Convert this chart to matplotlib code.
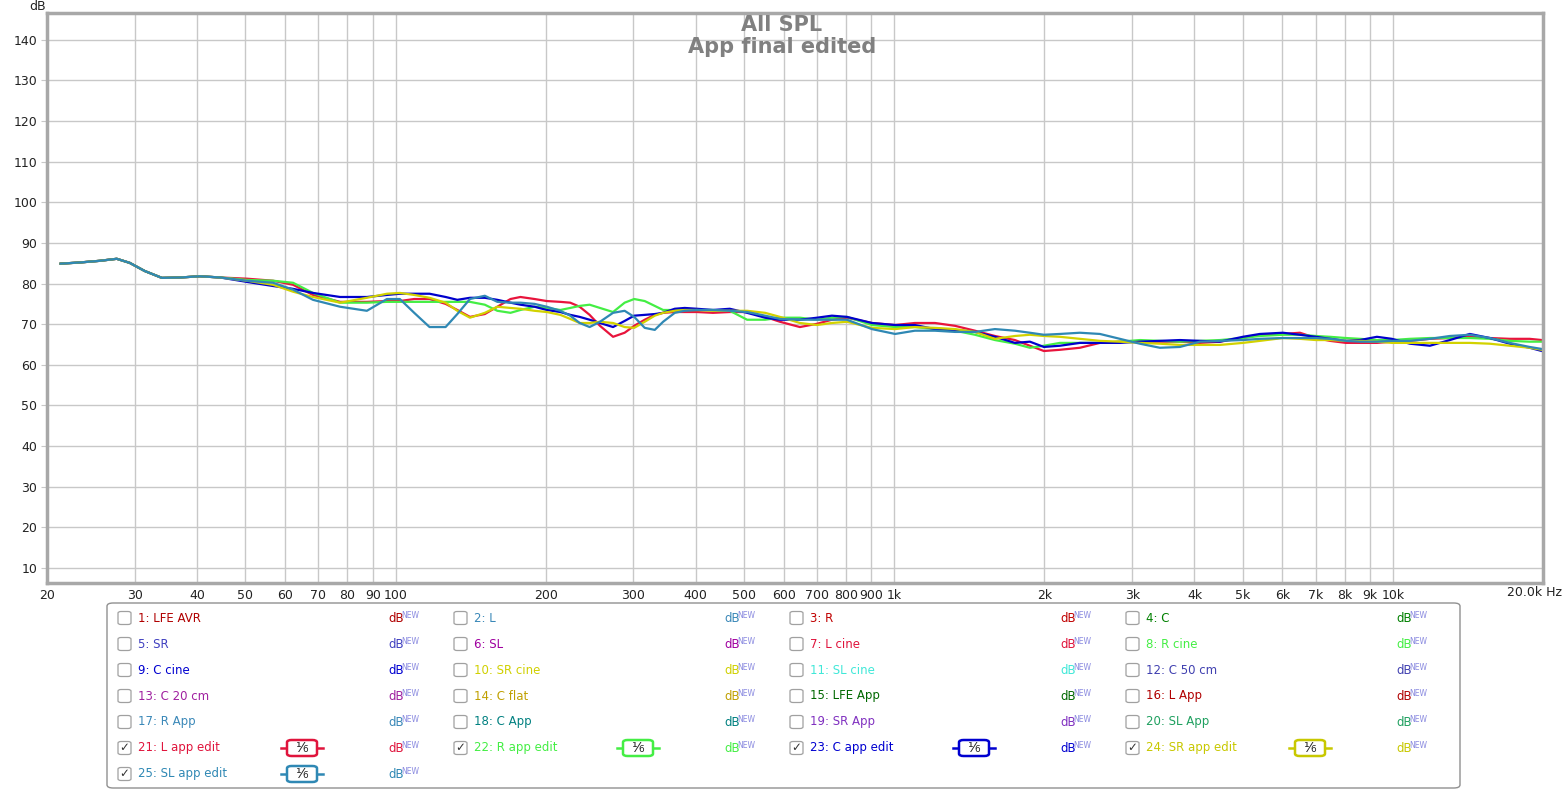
import matplotlib
matplotlib.use("Agg")
import matplotlib.pyplot as plt
from matplotlib.patches import FancyBboxPatch
from matplotlib.lines import Line2D

W, H = 1566, 790

# frequency points (Hz)
freq_hz = [21.3, 23.3, 25.5, 27.6, 29.3, 31.4, 34.0, 37.0, 40.5, 44.5,
           50.4, 56.8, 62.3, 68.3, 77.4, 87.6, 96.1, 102,
           109, 117, 126, 133, 141, 151, 160, 170, 178, 190, 201, 214, 224, 234, 245,
           257, 273, 288, 301, 316, 331, 344, 363, 380, 402, 433, 468, 507, 551, 590,
           647, 700, 750, 804, 902, 1004, 1100, 1207, 1324, 1452, 1592, 1746, 1871,
           1996, 2149, 2357, 2585, 2835, 3109, 3410, 3740,
           4102, 4499, 5003, 5411, 6018, 6509, 7008, 7478, 8049, 8589, 9289, 9955,
           10820, 11864, 13009, 14265, 15642, 17151, 18806, 19900]

# all five traces are identical below ~45 Hz
spl_low = [84.9, 85.2, 85.6, 86.1, 85.1, 83.1, 81.4, 81.5, 81.8, 81.5]

spl_l_edit = spl_low + [
    81.2, 80.7, 79.7, 77.2, 75.5, 75.5, 75.7, 75.7,
    76.2, 76.2, 75.0, 73.5, 71.8, 72.5, 74.3, 76.2, 76.7, 76.2, 75.7, 75.5, 75.3, 74.3, 72.3,
    69.6, 66.9, 67.9, 69.6, 71.1, 72.3, 72.8, 73.0, 73.0, 73.0, 72.8, 73.0, 73.0, 71.8, 70.6,
    69.3, 70.1, 71.1, 71.6, 70.3, 69.8, 70.3, 70.3, 69.6, 68.4, 67.1, 66.1, 64.7,
    63.4, 63.7, 64.2, 65.4, 65.7, 65.7, 65.7, 65.7,
    65.4, 65.7, 66.6, 67.4, 67.6, 67.9, 66.6, 65.9, 65.4, 65.4, 65.4, 65.7,
    65.9, 66.4, 66.6, 66.9, 66.6, 66.4, 66.4, 66.1]

spl_r_edit = spl_low + [
    80.9, 80.7, 80.2, 77.7, 75.3, 75.3, 75.5, 75.5,
    75.5, 75.5, 75.5, 75.5, 75.5, 74.8, 73.3, 72.8, 73.5, 74.3, 74.0, 73.5, 74.0, 74.5, 74.8,
    74.0, 73.0, 75.3, 76.2, 75.7, 74.5, 73.5, 73.5, 73.5, 73.5, 73.5, 73.3, 71.1, 71.1, 71.6,
    71.6, 71.1, 71.6, 71.8, 69.8, 69.3, 69.3, 68.8, 68.4, 67.4, 66.1, 65.2, 64.2,
    64.7, 65.4, 65.4, 65.4, 65.7, 66.1, 65.9, 65.7,
    65.9, 66.1, 66.6, 67.1, 67.4, 67.4, 67.1, 66.9, 66.6, 66.4, 66.1, 66.1,
    66.4, 66.6, 66.6, 66.6, 66.4, 65.9, 65.7, 65.7]

spl_c_edit = spl_low + [
    80.4, 79.4, 78.7, 77.7, 76.7, 76.7, 77.2, 77.5,
    77.5, 77.5, 76.7, 76.0, 76.5, 76.5, 76.0, 75.3, 74.8, 74.3, 73.5, 73.0, 72.3, 71.8, 71.1,
    70.3, 69.3, 70.8, 72.1, 72.3, 72.5, 72.8, 73.8, 74.0, 73.8, 73.5, 73.8, 72.8, 71.6, 71.1,
    71.1, 71.6, 72.1, 71.8, 70.3, 69.8, 69.8, 68.8, 68.6, 68.1, 66.9, 65.4, 65.7,
    64.4, 64.7, 65.4, 65.4, 65.4, 65.7, 65.9, 66.1,
    65.9, 65.7, 66.9, 67.6, 67.9, 67.4, 66.9, 66.4, 65.9, 66.1, 66.9, 66.4,
    65.2, 64.7, 66.1, 67.6, 66.6, 65.2, 64.2, 63.4]

spl_sr_edit = spl_low + [
    80.7, 79.7, 78.0, 76.7, 75.3, 76.5, 77.5, 77.7,
    77.2, 76.5, 75.3, 73.3, 71.6, 72.8, 74.3, 74.0, 73.8, 73.3, 73.0, 72.3, 71.3, 70.3, 70.3,
    70.6, 70.3, 69.3, 69.1, 70.6, 72.1, 72.8, 73.3, 73.5, 73.5, 73.3, 73.3, 73.3, 72.8, 71.8,
    70.3, 69.8, 70.3, 70.6, 69.1, 68.8, 69.3, 69.1, 68.8, 68.1, 66.4, 67.1, 67.4,
    67.1, 66.9, 66.4, 65.9, 65.7, 65.4, 65.2, 64.9,
    64.9, 64.9, 65.4, 65.9, 66.6, 66.4, 66.1, 66.1, 65.9, 65.9, 65.7, 65.4,
    65.4, 65.4, 65.4, 65.4, 65.2, 64.7, 64.2, 63.7]

spl_sl_edit = spl_low + [
    80.7, 80.2, 78.5, 76.0, 74.3, 73.3, 76.2, 76.2,
    72.8, 69.3, 69.3, 72.5, 76.2, 77.0, 75.5, 75.3, 75.3, 75.0, 74.3, 73.3, 72.1, 70.3, 69.3,
    70.6, 72.8, 73.3, 71.8, 69.1, 68.6, 70.6, 72.8, 73.3, 73.5, 73.5, 73.3, 73.0, 72.1, 71.3,
    71.1, 71.1, 71.1, 71.1, 68.8, 67.6, 68.4, 68.4, 68.1, 68.1, 68.8, 68.4, 67.9,
    67.4, 67.6, 67.9, 67.6, 66.4, 65.2, 64.2, 64.4,
    65.7, 65.9, 66.1, 66.4, 66.6, 66.6, 66.6, 66.4, 65.9, 65.7, 65.7, 65.9,
    65.9, 66.4, 67.1, 67.4, 66.6, 65.4, 64.4, 63.9]

traces = [
    (spl_l_edit, "#e8143c"),
    (spl_r_edit, "#44ee44"),
    (spl_c_edit, "#0000cc"),
    (spl_sr_edit, "#d2d200"),
    (spl_sl_edit, "#2f88b4"),
]

x_ticks = [20, 30, 40, 50, 60, 70, 80, 90, 100, 200, 300, 400, 500, 600, 700, 800, 900,
           1000, 2000, 3000, 4000, 5000, 6000, 7000, 8000, 9000, 10000]
x_labels = ["20", "30", "40", "50", "60", "70", "80", "90", "100", "200", "300", "400",
            "500", "600", "700", "800", "900", "1k", "2k", "3k", "4k", "5k", "6k", "7k",
            "8k", "9k", "10k"]
y_ticks = [10, 20, 30, 40, 50, 60, 70, 80, 90, 100, 110, 120, 130, 140]

# legend entries (number, name, colour)
leg_names = ["LFE AVR", "L", "R", "C", "SR", "SL", "L cine", "R cine", "C cine",
             "SR cine", "SL cine", "C 50 cm", "C 20 cm", "C flat", "LFE App", "L App",
             "R App", "C App", "SR App", "SL App", "L app edit", "R app edit",
             "C app edit", "SR app edit", "SL app edit"]
leg_colors = ["#b00000", "#3a88b8", "#c00000", "#008000", "#4040c0", "#a000a0",
              "#e0143c", "#44ee44", "#0000d0", "#d0d000", "#40e8d8", "#4040b0",
              "#a020a0", "#c0a000", "#006800", "#b00000", "#3a88b8", "#008080",
              "#8030c0", "#20a060", "#e0143c", "#44ee44", "#0000d0", "#c8c800",
              "#2f88b4"]
leg_checked = [21, 22, 23, 24, 25]


def fx(px):
    return px / W


def fy(py):
    return 1 - py / H


fig = plt.figure(figsize=(W / 100, H / 100), dpi=100)
ax = fig.add_axes([fx(47), fy(583), (1543 - 47) / W, (583 - 13) / H])

for spl, col in traces:
    ax.plot(freq_hz, spl, color=col, lw=1.6, solid_joinstyle="round")

ax.set_xscale("log")
ax.set_xlim(20, 20000)
ax.set_ylim(6.3, 146.6)
ax.set_xticks(x_ticks)
ax.set_xticklabels(x_labels)
ax.minorticks_off()
ax.set_yticks(y_ticks)
ax.grid(True, color="#c8c8c8", lw=1)
ax.set_axisbelow(True)
ax.tick_params(axis="x", length=0, pad=4, labelsize=9, colors="#222222")
ax.tick_params(axis="y", length=4, color="#c8c8c8", pad=3, labelsize=9,
               labelcolor="#222222")
for s in ax.spines.values():
    s.set_color("#a8a8a8")
    s.set_linewidth(2.5)

fig.text(fx(38), fy(6), "dB", fontsize=9, ha="center", va="center", color="#222222")
fig.text(fx(1562), fy(593), "20.0k Hz", fontsize=9, ha="right", va="center",
         color="#222222")

fig.text(fx(782), fy(25), "All SPL", fontsize=15, fontweight="bold",
         color="#808080", ha="center", va="center")
fig.text(fx(782), fy(47), "App final edited", fontsize=15, fontweight="bold",
         color="#808080", ha="center", va="center")

# legend panel
fig.patches.append(FancyBboxPatch((fx(107), fy(788)), (1460 - 107) / W, (788 - 603) / H,
                                  boxstyle="round,pad=0,rounding_size=0.004",
                                  transform=fig.transFigure, fc="white",
                                  ec="#909090", lw=1))

for i, (name, col) in enumerate(zip(leg_names, leg_colors)):
    num = i + 1
    row, c = divmod(i, 4)
    x0 = 118 + 336 * c
    yc = 618 + 26 * row
    fig.patches.append(FancyBboxPatch((fx(x0), fy(yc + 6.5)), 13 / W, 13 / H,
                                      boxstyle="round,pad=0,rounding_size=0.002",
                                      transform=fig.transFigure, fc="white",
                                      ec="#a0a0a0", lw=0.9))
    if num in leg_checked:
        fig.text(fx(x0 + 6.5), fy(yc), "\u2713", fontsize=8.5, color="#333333",
                 ha="center", va="center")
    fig.text(fx(x0 + 20), fy(yc), f"{num}: {name}", fontsize=8.5, color=col,
             ha="left", va="center")
    fig.text(fx(x0 + 270), fy(yc), "dB", fontsize=8.5, color=col, ha="left",
             va="center")
    fig.text(fx(x0 + 283), fy(yc - 3), "NEW", fontsize=5.5, color="#8a8ae0",
             ha="left", va="center")
    if num in leg_checked:
        bx = x0 + 184
        fig.lines.append(Line2D([fx(bx - 21), fx(bx + 21)], [fy(yc), fy(yc)],
                                transform=fig.transFigure, color=col, lw=1.8))
        fig.patches.append(FancyBboxPatch((fx(bx - 15), fy(yc + 8)), 30 / W, 16 / H,
                                          boxstyle="round,pad=0,rounding_size=0.003",
                                          transform=fig.transFigure, fc="white",
                                          ec=col, lw=1.8, zorder=3))
        fig.text(fx(bx), fy(yc), "\u00b9\u2044\u2086", fontsize=10, color="#222222",
                 ha="center", va="center", zorder=4)

fig.savefig("out.png", dpi=100)
